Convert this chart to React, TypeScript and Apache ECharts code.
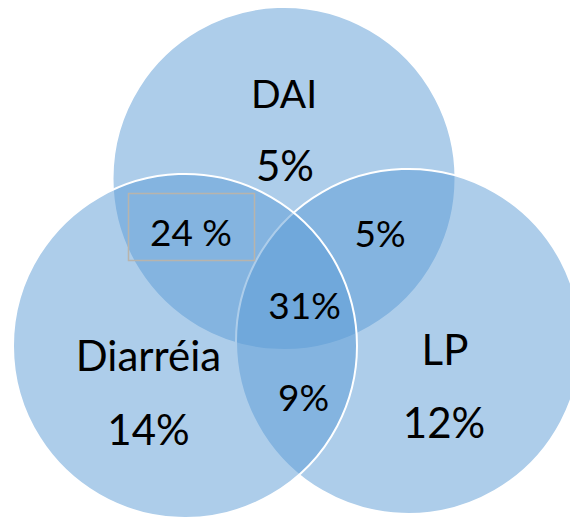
import React, { useEffect, useRef } from "react";
import * as echarts from "echarts";

// ---- data ----
const setNames = ["DAI", "Diarréia", "LP"];
const setOnly = ["5%", "14%", "12%"];
const pairLabels = ["24 %", "5%", "9%"]; // DAI∩Diarréia, DAI∩LP, Diarréia∩LP
const tripleLabel = "31%";

// ---- layout ----
const W = 570;
const H = 517;
const FILL = "rgba(91,155,213,0.5)";
const circles = {
  top: { cx: 284, cy: 178.5, r: 171.5 },
  left: { cx: 185, cy: 346, r: 172 },
  right: { cx: 408.5, cy: 341.5, r: 172.5 },
};
const FONT = "Lato, 'Open Sans', sans-serif";

function txt(text: string, x: number, y: number, size: number) {
  return {
    type: "text",
    x,
    y,
    z: 10,
    style: {
      text,
      fill: "#000",
      fontSize: size,
      fontFamily: FONT,
      align: "center",
      verticalAlign: "middle",
      textAlign: "center",
      textVerticalAlign: "middle",
    },
  };
}

function circle(c: { cx: number; cy: number; r: number }, z: number) {
  return {
    type: "circle",
    z,
    shape: { cx: c.cx, cy: c.cy, r: c.r },
    style: { fill: FILL, stroke: "#ffffff", lineWidth: 2 },
  };
}

export default function App() {
  const ref = useRef<HTMLDivElement>(null);
  useEffect(() => {
    if (!ref.current) return;
    const chart = echarts.init(ref.current, undefined, { renderer: "svg" });
    chart.setOption({
      animation: false,
      backgroundColor: "#ffffff",
      graphic: {
        elements: [
          circle(circles.top, 1),
          circle(circles.right, 2),
          circle(circles.left, 3),
          {
            type: "rect",
            z: 5,
            shape: { x: 128.5, y: 193.5, width: 126, height: 67 },
            style: { fill: "none", stroke: "#b8b4ac", lineWidth: 1.5 },
          },
          txt(setNames[0], 284, 93, 39),
          txt(setOnly[0], 285, 165, 42),
          txt(setNames[1], 148.5, 355, 42),
          txt(setOnly[1], 148.5, 429, 42),
          txt(setNames[2], 445, 349, 42),
          txt(setOnly[2], 444, 422, 42),
          txt(pairLabels[0], 191, 231, 37),
          txt(pairLabels[1], 380, 232, 37),
          txt(pairLabels[2], 303.5, 396, 37),
          txt(tripleLabel, 304.5, 304, 37),
        ],
      },
    });
    return () => chart.dispose();
  }, []);
  return (
    <div
      ref={ref}
      style={{ position: "fixed", left: 0, top: 0, width: W, height: H }}
    />
  );
}
